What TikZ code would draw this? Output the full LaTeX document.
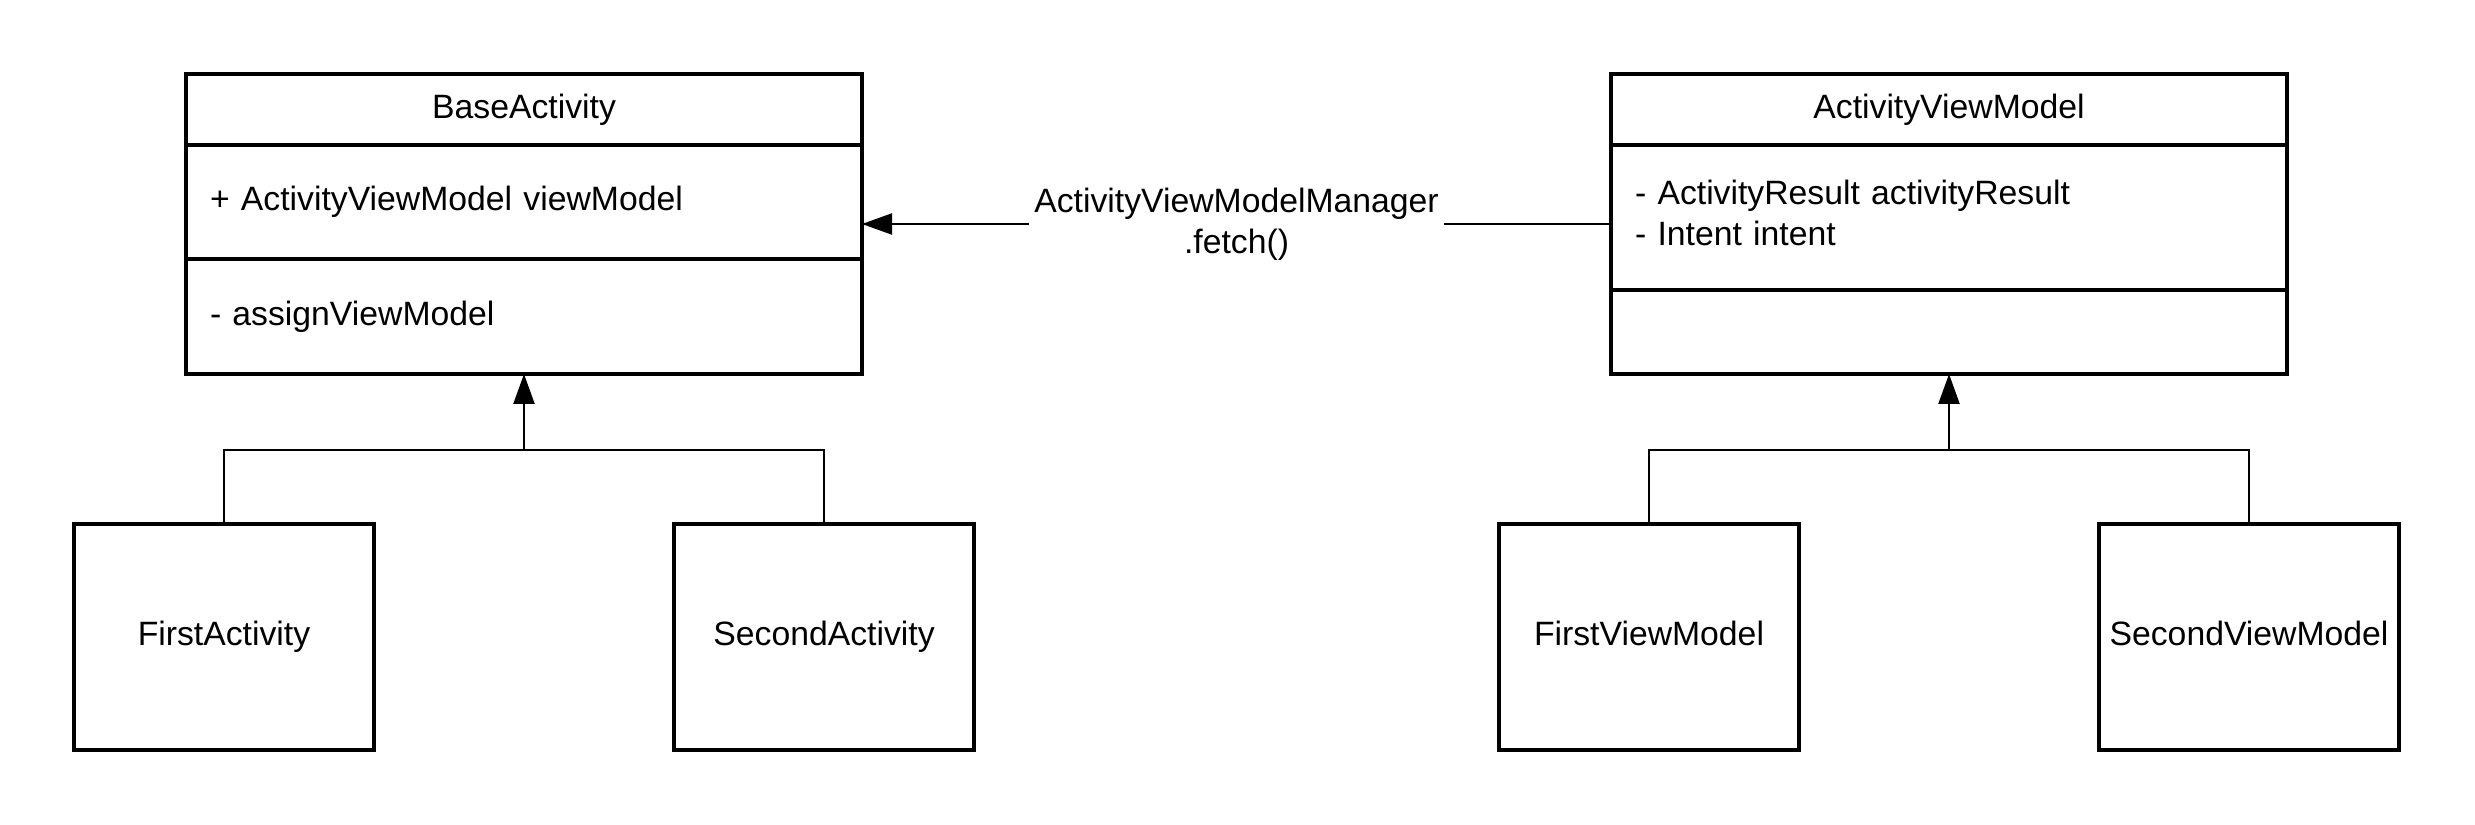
\documentclass[tikz,border=0pt]{standalone}
\usepackage{fontspec}
\setmainfont{Liberation Sans}
\usepackage{tikz}
\usetikzlibrary{positioning, arrows.meta}

\tikzset{
  classpart/.style={draw, line width=1pt, outer sep=0pt, inner sep=0pt, minimum width=67.6mm},
  membertext/.style={classpart, align=left, text width=62.8mm},
  subclass/.style={draw, line width=1pt, minimum width=30mm, minimum height=22.6mm, inner sep=0pt,
    text height=2.4mm, text depth=0.7mm},
  link/.style={line width=0.65pt},
  inherit/.style={link, -{Triangle[length=3mm, width=2.1mm]}},
}

\begin{document}
\begin{tikzpicture}[x=0.1mm, y=-0.1mm, font=\fontsize{9.6pt}{11.7pt}\selectfont]
    \useasboundingbox (0,0) rectangle (2475,825);
    % BaseActivity
    \node[classpart, minimum height=7.1mm] (basehead) at (524,109.5) {BaseActivity};
    \node[membertext, minimum height=11.4mm, below=0pt of basehead] (baseattr) {+ ActivityViewModel viewModel};
    \node[membertext, minimum height=11.5mm, below=0pt of baseattr] (basemeth) {- assignViewModel};
    % ActivityViewModel
    \node[classpart, minimum height=7.1mm] (vmhead) at (1949,109.5) {ActivityViewModel};
    \node[membertext, minimum height=14.5mm, text depth=5.1mm, below=0pt of vmhead] (vmattr) {- ActivityResult activityResult\\- Intent intent};
    \node[classpart, minimum height=8.4mm, below=0pt of vmattr] (vmmeth) {};
    % subclasses
    \node[subclass] (firstact) at (224,637) {FirstActivity};
    \node[subclass] (secondact) at (824,637) {SecondActivity};
    \node[subclass] (firstvm) at (1649,637) {FirstViewModel};
    \node[subclass] (secondvm) at (2249,637) {SecondViewModel};

    \coordinate (basejoin) at (524,450);
    \coordinate (vmjoin) at (1949,450);
    \coordinate (fetchline) at (0,224);
    \draw[link] (firstact.north) |- (basejoin) -| (secondact.north);
    \draw[inherit] (basejoin) -- (basemeth.south);
    \draw[link] (firstvm.north) |- (vmjoin) -| (secondvm.north);
    \draw[inherit] (vmjoin) -- (vmmeth.south);
    \draw[inherit] (vmattr.west |- fetchline) -- node[fill=white, align=center, inner xsep=0.5mm]
      {ActivityViewModelManager\\.fetch()} (baseattr.east |- fetchline);
\end{tikzpicture}
\end{document}
